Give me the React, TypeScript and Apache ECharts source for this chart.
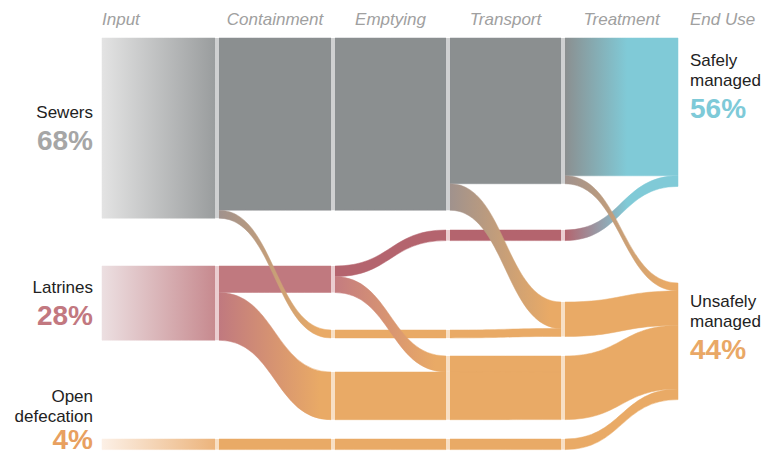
import React, { useEffect, useRef } from 'react';
import * as echarts from 'echarts';

// ---------- data ----------
const STAGES = ['Input', 'Containment', 'Emptying', 'Transport', 'Treatment', 'End Use'];

const SOURCES = ['Sewers', 'Latrines', 'Open defecation'];
const SOURCE_SHARES = [68, 28, 4];
const SOURCE_LINES = [['Sewers'], ['Latrines'], ['Open', 'defecation']];

const OUTCOMES = ['Safely managed', 'Unsafely managed'];
const OUTCOME_SHARES = [56, 44];
const OUTCOME_LINES = [['Safely', 'managed'], ['Unsafely', 'managed']];

// flows in % of population: [from, to, value]
const FLOWS: [string, string, number][] = [
  ['Sewers', 'C:Sewer', 68],
  ['Latrines', 'C:Latrine', 28],
  ['Open defecation', 'C:Open', 4],
  ['C:Sewer', 'E:Sewer', 65],
  ['C:Latrine', 'E:Emptied', 10],
  ['C:Latrine', 'E:Not emptied', 18],
  ['C:Open', 'E:Open', 4],
  ['C:Sewer', 'E:Leak', 3],
  ['E:Sewer', 'T:Sewer', 65],
  ['E:Leak', 'T:Leak', 3],
  ['E:Not emptied', 'T:Not emptied', 18],
  ['E:Open', 'T:Open', 4],
  ['E:Emptied', 'T:Transported', 4],
  ['E:Emptied', 'T:Not transported', 6],
  ['T:Sewer', 'R:Sewer', 55],
  ['T:Transported', 'R:Latrine', 4],
  ['T:Leak', 'R:Untreated A', 3],
  ['T:Not transported', 'R:Untreated B', 6],
  ['T:Not emptied', 'R:Untreated B', 18],
  ['T:Open', 'R:Open', 4],
  ['T:Sewer', 'R:Untreated A', 10],
  ['R:Sewer', 'Safely managed', 52],
  ['R:Latrine', 'Safely managed', 4],
  ['R:Untreated A', 'Unsafely managed', 13],
  ['R:Untreated B', 'Unsafely managed', 24],
  ['R:Open', 'Unsafely managed', 4],
  ['R:Sewer', 'Unsafely managed', 3],
];

// ---------- layout & styles ----------
const COL_X = [98, 215, 331, 446, 561, 678];
const PX_PER_PCT = 2.65;

// [node, column, top y px, tint]  (top-to-bottom within each column)
const NODE_LAYOUT: [string, number, number, string][] = [
  ['Sewers', 0, 38, 'none'],
  ['Latrines', 0, 266, 'none'],
  ['Open defecation', 0, 439, 'none'],
  ['C:Sewer', 1, 38, 'gray'],
  ['C:Latrine', 1, 266, 'red'],
  ['C:Open', 1, 439, 'orange'],
  ['E:Sewer', 2, 38, 'gray'],
  ['E:Emptied', 2, 266, 'red'],
  ['E:Leak', 2, 330, 'orange'],
  ['E:Not emptied', 2, 372, 'orange'],
  ['E:Open', 2, 439, 'orange'],
  ['T:Sewer', 3, 38, 'gray'],
  ['T:Transported', 3, 230, 'red'],
  ['T:Leak', 3, 330, 'orange'],
  ['T:Not transported', 3, 356, 'orange'],
  ['T:Not emptied', 3, 372, 'orange'],
  ['T:Open', 3, 439, 'orange'],
  ['R:Sewer', 4, 38, 'gray'],
  ['R:Latrine', 4, 230, 'red'],
  ['R:Untreated A', 4, 302, 'orange'],
  ['R:Untreated B', 4, 356, 'orange'],
  ['R:Open', 4, 439, 'orange'],
  ['Safely managed', 5, 38, 'none'],
  ['Unsafely managed', 5, 283, 'none'],
];

const TINTS: Record<string, string> = {
  none: 'rgba(0,0,0,0)',
  gray: '#cfd0d1',
  red: '#ebcdd0',
  orange: '#f8dfc4',
};

const GRAY = '#8b8f90';
const RED = '#c0797f';
const RED_DARK = '#b4646e';
const ORANGE = '#e9aa66';
const CYAN = '#80cad7';
const BROWN = '#a0928d';

// [start colour, end colour, offset where end colour is reached] per flow
const FLOW_PAINT: [string, string, number][] = [
  ['#e3e3e3', '#9a9d9e', 1],
  ['#ecdfe1', '#c78a8f', 1],
  ['#fcf0e6', '#ecb47c', 1],
  [GRAY, GRAY, 1],
  [RED, RED, 1],
  [RED, ORANGE, 0.9],
  [ORANGE, ORANGE, 1],
  [BROWN, ORANGE, 0.9],
  [GRAY, GRAY, 1],
  [ORANGE, ORANGE, 1],
  [ORANGE, ORANGE, 1],
  [ORANGE, ORANGE, 1],
  [RED_DARK, RED_DARK, 1],
  ['#c47c80', ORANGE, 0.9],
  [GRAY, GRAY, 1],
  [RED_DARK, RED_DARK, 1],
  [ORANGE, ORANGE, 1],
  [ORANGE, ORANGE, 1],
  [ORANGE, ORANGE, 1],
  [ORANGE, ORANGE, 1],
  [BROWN, ORANGE, 0.9],
  [GRAY, CYAN, 0.55],
  [RED_DARK, CYAN, 0.55],
  [ORANGE, ORANGE, 1],
  [ORANGE, ORANGE, 1],
  [ORANGE, ORANGE, 1],
  [BROWN, ORANGE, 0.9],
];

const SOURCE_PCT_COLORS = ['#a6a6a6', '#c27880', '#e8a060'];
const OUTCOME_PCT_COLORS = ['#7ecad8', '#e9a866'];
const SOURCE_LABEL_DY = [2, 2, -25];
const SOURCE_PCT_LINE = [36, 36, 26];
const OUTCOME_LABEL_DY = [-24, -12];

const FONT = '"Liberation Sans", Arial, Helvetica, sans-serif';

function paint(p: [string, string, number]) {
  if (p[0] === p[1]) return p[0];
  return {
    type: 'linear', x: 0, y: 0, x2: 1, y2: 0,
    colorStops: [
      { offset: 0, color: p[0] },
      { offset: p[2], color: p[1] },
      { offset: 1, color: p[1] },
    ],
  };
}

function richLabel(lines: string[], pct: number, pctColor: string, pctLine: number) {
  return {
    formatter: [...lines.map((l) => `{n|${l}}`), `{p|${pct}%}`].join('\n'),
    rich: {
      n: { fontFamily: FONT, fontSize: 17, color: '#222222', lineHeight: 20 },
      p: { fontFamily: FONT, fontSize: 28, fontWeight: 'bold', color: pctColor, lineHeight: pctLine },
    },
  };
}

export default function App() {
  const ref = useRef<HTMLDivElement>(null);

  useEffect(() => {
    const chart = echarts.init(ref.current!, null, { renderer: 'svg' });
    const layoutHeight = 100 * PX_PER_PCT;

    const nodes = NODE_LAYOUT.map(([name, col, y, tint]) => {
      const node: any = {
        name,
        depth: col,
        localX: COL_X[col] / 772,
        localY: y / layoutHeight,
        itemStyle: { color: TINTS[tint], borderWidth: 0 },
        label: { show: false },
      };
      const si = SOURCES.indexOf(name);
      if (si >= 0) {
        node.label = {
          show: true,
          position: 'left',
          distance: 5,
          align: 'right',
          offset: [0, SOURCE_LABEL_DY[si]],
          ...richLabel(SOURCE_LINES[si], SOURCE_SHARES[si], SOURCE_PCT_COLORS[si], SOURCE_PCT_LINE[si]),
        };
      }
      const oi = OUTCOMES.indexOf(name);
      if (oi >= 0) {
        node.label = {
          show: true,
          position: 'right',
          distance: 8,
          align: 'left',
          offset: [0, OUTCOME_LABEL_DY[oi]],
          ...richLabel(OUTCOME_LINES[oi], OUTCOME_SHARES[oi], OUTCOME_PCT_COLORS[oi], 36),
        };
      }
      return node;
    });

    const links = FLOWS.map(([source, target, value], i) => {
      const c = paint(FLOW_PAINT[i]);
      return {
        source,
        target,
        value,
        lineStyle: { color: c, borderColor: c, borderWidth: 0.5, opacity: 1, curveness: 0.5 },
      };
    });

    const headerGraphics = STAGES.map((s, i) => {
      let x: number;
      let align: string = 'center';
      if (i === 0) { x = 102; align = 'left'; }
      else if (i === STAGES.length - 1) { x = 690; align = 'left'; }
      else x = (COL_X[i] + 4 + COL_X[i + 1]) / 2;
      return {
        type: 'text',
        x,
        y: 19,
        style: {
          text: s,
          fontFamily: FONT,
          fontSize: 17,
          fontStyle: 'italic',
          fill: '#a0a0a0',
          align,
          verticalAlign: 'middle',
        },
      };
    });

    chart.setOption({
      animation: false,
      backgroundColor: '#ffffff',
      graphic: headerGraphics,
      series: [
        {
          type: 'sankey',
          left: 0,
          top: 0,
          width: 772,
          height: layoutHeight,
          nodeWidth: 4,
          nodeGap: 0,
          layoutIterations: 0,
          nodeAlign: 'left',
          draggable: false,
          emphasis: { disabled: true },
          label: { show: false },
          lineStyle: { opacity: 1, curveness: 0.5 },
          data: nodes,
          links,
        },
      ],
    });

    return () => chart.dispose();
  }, []);

  return (
    <div
      ref={ref}
      style={{ position: 'fixed', left: 0, top: 0, width: 772, height: 455, background: '#fff' }}
    />
  );
}
